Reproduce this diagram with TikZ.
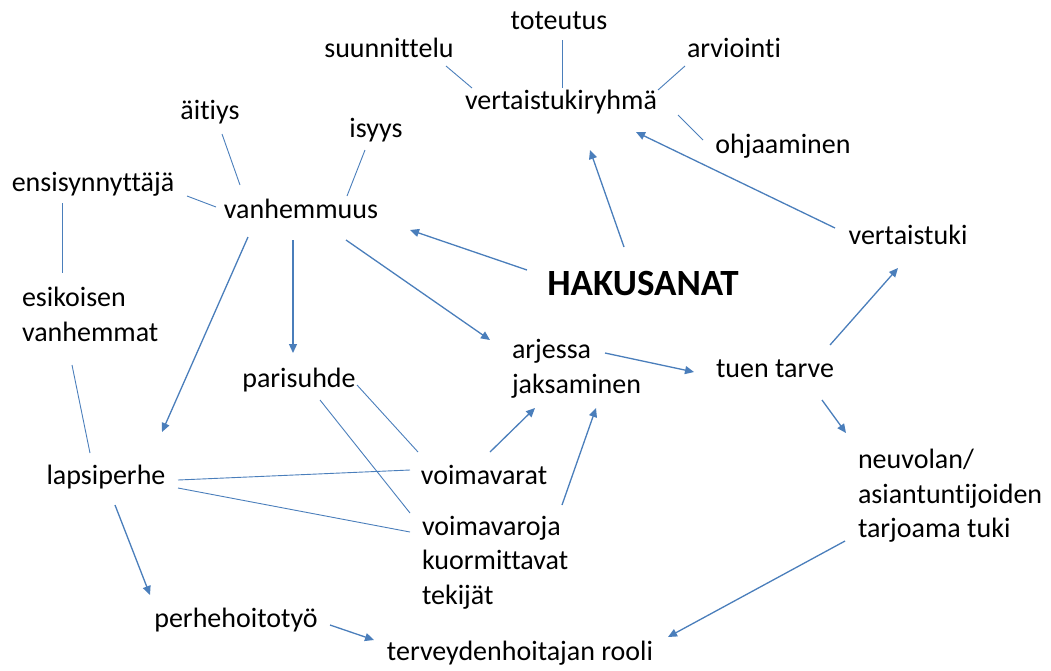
\documentclass[tikz,border=0pt]{standalone}
\usepackage{fontspec}
\setmainfont{Carlito}[Ligatures=NoCommon]
\usetikzlibrary{calc,arrows.meta}
\definecolor{ln}{HTML}{4A7EBB}
\tikzset{
  lbl/.style={inner sep=0pt, outer sep=0pt, text height=20pt, text depth=6pt, font=\fontsize{28}{34.5}\selectfont},
  mlbl/.style={inner sep=0pt, outer sep=0pt, anchor=base west, align=left, font=\fontsize{28}{34.5}\selectfont},
  plain/.style={draw=ln, line width=0.9pt},
  arr/.style={draw=ln, line width=1.3pt, -{Triangle[length=9pt,width=8pt]}}
}
\begin{document}
\begin{tikzpicture}[x=1pt,y=-1pt]
\useasboundingbox (0,0) rectangle (1051,670);
\node[lbl] (T) at (559,22) {toteutus};
\node[lbl] (S) at (389,50) {suunnittelu};
\node[lbl] (A) at (734,50) {arviointi};
\node[lbl] (V) at (561,102) {vertaistukiryhmä};
\node[lbl] (O) at (783,146) {ohjaaminen};
\node[lbl] (AI) at (210,112) {äitiys};
\node[lbl] (IS) at (376,130) {isyys};
\node[lbl] (E) at (93,184) {ensisynnyttäjä};
\node[lbl] (VH) at (301,211) {vanhemmuus};
\node[lbl] (VT) at (908,237) {vertaistuki};
\node[lbl, font=\fontsize{37}{38}\selectfont\bfseries] (H) at (643,288) {HAKUSANAT};
% multi-line nodes: placed at the baseline of their last line
\node[mlbl] (ES) at (22,341) {esikoisen\\vanhemmat};
\node[lbl] (P) at (299,380) {parisuhde};
\node[mlbl] (AJ) at (512,393) {arjessa\\jaksaminen};
\node[lbl] (TT) at (775,370) {tuen tarve};
\node[lbl] (L) at (106,477) {lapsiperhe};
\node[lbl] (VV) at (484,477) {voimavarat};
\node[mlbl] (VR) at (422,604) {voimavaroja\\kuormittavat\\tekijät};
\node[mlbl] (N) at (858,537.5) {neuvolan/\\asiantuntijoiden\\tarjoama tuki};
\node[lbl] (PH) at (236,620) {perhehoitotyö};
\node[lbl] (TR) at (520,653) {terveydenhoitajan rooli};

\draw[plain] ($(S)+(57,16)$) -- ($(V)+(-89,-14)$);
\draw[plain] ($(T)+(3,18)$) -- ($(V)+(1,-14)$);
\draw[plain] ($(A)+(-49,16)$) -- ($(V)+(97,-12)$);
\draw[plain] ($(V)+(117,13)$) -- ($(O)+(-80,-6)$);
\draw[arr] ($(H)+(-19,-41)$) -- ($(V)+(29,48)$);
\draw[arr] ($(VT)+(-73,-9)$) -- ($(V)+(75,30)$);
\draw[plain] ($(AI)+(12,22)$) -- ($(VH)+(-61,-26)$);
\draw[plain] ($(IS)+(-11,20)$) -- ($(VH)+(46,-15)$);
\draw[plain] ($(E)+(94,12)$) -- ($(VH)+(-85,-4)$);
\draw[plain] ($(E)+(-31,19)$) -- ($(ES.base west)+(40,-68)$);
\draw[arr] ($(H)+(-116,-18)$) -- ($(VH)+(109,19)$);
\draw[arr] ($(VH)+(-53,26)$) -- ($(L)+(56,-45)$);
\draw[arr] ($(VH)+(-8,29)$) -- ($(P)+(-6,-27)$);
\draw[arr] ($(VH)+(45,29)$) -- ($(AJ.base west)+(-22,-53)$);
\draw[plain] ($(ES.base west)+(50,24)$) -- ($(L)+(-16,-24)$);
\draw[plain] ($(P)+(58,5)$) -- ($(VV)+(-66,-25)$);
\draw[plain] ($(P)+(21,20)$) -- ($(VR.base west)+(-12,-91)$);
\draw[plain] ($(L)+(72,3)$) -- ($(VV)+(-74,-7)$);
\draw[plain] ($(L)+(72,11)$) -- ($(VR.base west)+(-12,-72)$);
\draw[arr] ($(VV)+(6,-25)$) -- ($(AJ.base west)+(23,15)$);
\draw[arr] ($(VR.base west)+(140,-99)$) -- ($(AJ.base west)+(84,15)$);
\draw[arr] ($(AJ.base west)+(93,-40)$) -- ($(TT)+(-81,2)$);
\draw[arr] ($(TT)+(55,-25)$) -- ($(VT)+(-10,31)$);
\draw[arr] ($(TT)+(47,30)$) -- ($(N.base west)+(-12,-104.5)$);
\draw[arr] ($(L)+(9,28)$) -- ($(PH)+(-86,-25)$);
\draw[arr] ($(PH)+(94,5)$) -- ($(TR)+(-146,-13)$);
\draw[arr] ($(N.base west)+(-13,3.5)$) -- ($(TR)+(148,-16)$);
\end{tikzpicture}
\end{document}
